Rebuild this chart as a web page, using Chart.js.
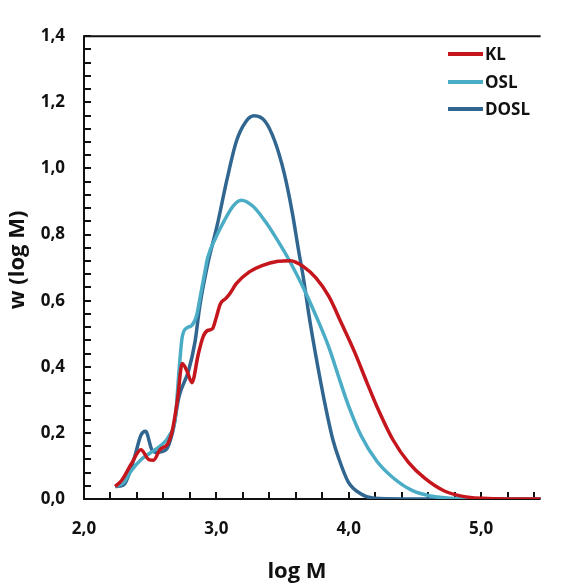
<!DOCTYPE html>
<html>
<head>
<meta charset="utf-8">
<script src="https://cdn.jsdelivr.net/npm/chart.js@4/dist/chart.umd.min.js"></script>
<style>
  html, body { margin: 0; padding: 0; background: #fff; overflow: hidden; }
</style>
</head>
<body>
<canvas id="chart" width="561" height="587"></canvas>
<script>
// Molecular weight distributions
const klLogM = [2.236, 2.284, 2.356, 2.43, 2.49, 2.525, 2.573, 2.634, 2.67, 2.706, 2.742, 2.78, 2.815, 2.863, 2.899, 2.935, 2.97, 3.0, 3.03, 3.07, 3.1, 3.152, 3.249, 3.345, 3.466, 3.56, 3.658, 3.754, 3.851, 3.947, 4.044, 4.14, 4.213, 4.333, 4.453, 4.574, 4.719, 4.863, 5.008, 5.2, 5.6];
const klW    = [0.038, 0.056, 0.105, 0.149, 0.119, 0.117, 0.149, 0.168, 0.212, 0.3, 0.41, 0.385, 0.352, 0.437, 0.49, 0.51, 0.515, 0.55, 0.59, 0.606, 0.62, 0.652, 0.687, 0.706, 0.719, 0.721, 0.703, 0.668, 0.612, 0.53, 0.445, 0.35, 0.28, 0.18, 0.11, 0.063, 0.025, 0.008, 0.002, 0, 0];

const oslLogM = [2.236, 2.30, 2.356, 2.43, 2.5, 2.585, 2.646, 2.689, 2.718, 2.742, 2.779, 2.815, 2.851, 2.875, 2.911, 2.935, 2.995, 3.056, 3.128, 3.188, 3.273, 3.369, 3.466, 3.562, 3.658, 3.754, 3.851, 3.936, 3.996, 4.092, 4.213, 4.333, 4.478, 4.622, 4.767, 5.0, 5.6];
const oslW    = [0.038, 0.05, 0.085, 0.119, 0.139, 0.163, 0.193, 0.242, 0.388, 0.49, 0.518, 0.525, 0.555, 0.605, 0.682, 0.731, 0.79, 0.839, 0.887, 0.904, 0.887, 0.84, 0.78, 0.714, 0.638, 0.553, 0.458, 0.355, 0.285, 0.193, 0.114, 0.065, 0.026, 0.009, 0.002, 0, 0];

const doslLogM = [2.236, 2.27, 2.308, 2.38, 2.43, 2.465, 2.513, 2.55, 2.62, 2.67, 2.718, 2.79, 2.839, 2.875, 2.935, 3.007, 3.08, 3.152, 3.224, 3.285, 3.369, 3.441, 3.513, 3.573, 3.622, 3.658, 3.706, 3.79, 3.84, 3.88, 3.923, 3.996, 4.09, 4.19, 4.4, 5.0, 5.6];
const doslW    = [0.038, 0.039, 0.046, 0.124, 0.193, 0.205, 0.149, 0.141, 0.149, 0.203, 0.31, 0.388, 0.476, 0.584, 0.711, 0.829, 0.966, 1.083, 1.142, 1.159, 1.142, 1.083, 0.985, 0.868, 0.75, 0.668, 0.54, 0.35, 0.25, 0.18, 0.125, 0.052, 0.016, 0.002, 0, 0, 0];

const seriesNames = ['KL', 'OSL', 'DOSL'];
const seriesColors = ['#C4161C', '#4BACC6', '#30668F'];

// tick positions: labelled every 0.2 (y) / 1.0 (x), marks every 0.04 (y) / 0.2 (x)
const yTicks = Array.from({ length: 36 }, (_, i) => +(i * 0.04).toFixed(2));
const xTicks = Array.from({ length: 18 }, (_, i) => +(2 + i * 0.2).toFixed(1));

const FONT = '"Open Sans", "Liberation Sans", sans-serif';
const fmt = v => v.toFixed(1).replace('.', ',');
const isStep = (v, step) => Math.abs(v / step - Math.round(v / step)) < 1e-6;

function toPoints(xs, ys) {
    return xs.map((x, i) => ({ x: x, y: ys[i] }));
}

// frame under the curves; titles and legend on top
const frameAndLegend = {
    id: 'frameAndLegend',
    beforeDatasetsDraw(chart) {
        const { ctx, chartArea } = chart;
        ctx.save();
        ctx.strokeStyle = '#111';
        ctx.lineWidth = 2;
        ctx.beginPath();
        ctx.moveTo(chartArea.right, chartArea.top);
        ctx.lineTo(chartArea.left, chartArea.top);
        ctx.lineTo(chartArea.left, chartArea.bottom);
        ctx.lineTo(chartArea.right, chartArea.bottom);
        ctx.stroke();
        ctx.restore();
    },
    afterDraw(chart) {
        const { ctx } = chart;
        ctx.save();
        ctx.fillStyle = '#111';
        ctx.textAlign = 'center';
        ctx.textBaseline = 'middle';
        ctx.font = `bold 22px ${FONT}`;
        ctx.fillText('log M', 297, 572);

        ctx.translate(18, 260);
        ctx.rotate(-Math.PI / 2);
        ctx.font = `bold 22px ${FONT}`;
        ctx.fillText('w (log M)', 0, 0);
        ctx.restore();

        // legend
        ctx.save();
        ctx.font = `bold 17px ${FONT}`;
        ctx.textAlign = 'left';
        ctx.textBaseline = 'middle';
        const rows = [54, 82, 109];
        seriesNames.forEach((name, i) => {
            ctx.strokeStyle = seriesColors[i];
            ctx.lineWidth = 4;
            ctx.beginPath();
            ctx.moveTo(448, rows[i]);
            ctx.lineTo(483, rows[i]);
            ctx.stroke();
            ctx.fillStyle = '#111';
            ctx.fillText(name, 485, rows[i] + 1);
        });
        ctx.restore();
    }
};

const datasets = [
    toPoints(klLogM, klW),
    toPoints(oslLogM, oslW),
    toPoints(doslLogM, doslW)
].map((pts, i) => ({
    label: seriesNames[i],
    data: pts,
    showLine: true,
    borderColor: seriesColors[i],
    backgroundColor: seriesColors[i],
    borderWidth: 3.5,
    pointRadius: 0,
    cubicInterpolationMode: 'monotone',
    fill: false
}));

// negative tickLength makes Chart.js draw the tick marks inside the plot
const inwardGrid = { display: true, drawOnChartArea: false, drawTicks: true, tickLength: -7, color: '#111', lineWidth: 2 };

new Chart(document.getElementById('chart'), {
    type: 'scatter',
    data: { datasets },
    options: {
        responsive: false,
        animation: false,
        layout: { padding: { top: 22, right: 0, left: 0, bottom: 0 } },
        plugins: {
            legend: { display: false },
            tooltip: { enabled: false }
        },
        scales: {
            x: {
                type: 'linear',
                min: 2,
                max: 5.45,
                grid: inwardGrid,
                border: { display: false },
                afterFit: s => { s.height = 88; },
                afterBuildTicks: s => { s.ticks = xTicks.map(v => ({ value: v })); },
                ticks: {
                    autoSkip: false,
                    maxRotation: 0,
                    padding: 27,
                    color: '#111',
                    font: { family: FONT, size: 17, weight: 'bold' },
                    callback: v => isStep(v, 1) ? fmt(v) : ''
                }
            },
            y: {
                type: 'linear',
                min: 0,
                max: 1.4,
                grid: inwardGrid,
                border: { display: false },
                afterFit: s => { s.width = 84; },
                afterBuildTicks: s => { s.ticks = yTicks.map(v => ({ value: v })); },
                ticks: {
                    autoSkip: false,
                    padding: 26,
                    color: '#111',
                    font: { family: FONT, size: 17, weight: 'bold' },
                    callback: v => isStep(v, 0.2) ? fmt(v) : ''
                }
            }
        }
    },
    plugins: [frameAndLegend]
});
</script>
</body>
</html>
